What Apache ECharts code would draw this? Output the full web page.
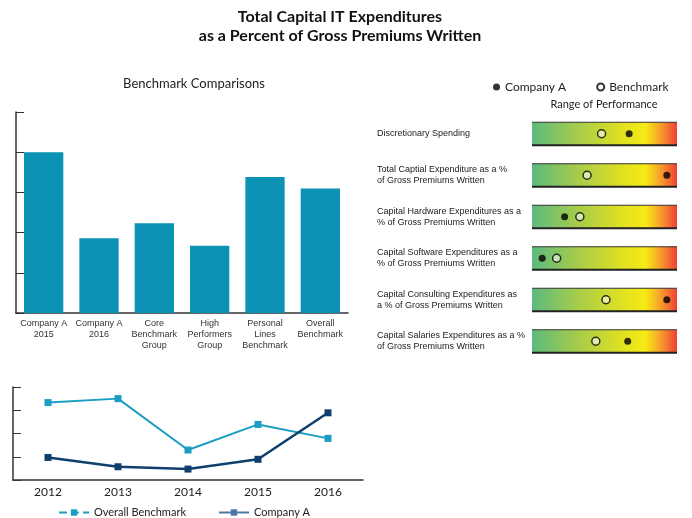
<!DOCTYPE html>
<html>
<head>
<meta charset="utf-8">
<script src="https://cdn.jsdelivr.net/npm/echarts@6/dist/echarts.min.js"></script>
<style>
  html, body { margin: 0; padding: 0; background: #fff; }
  #main { width: 692px; height: 518px; }
</style>
</head>
<body>
<div id="main"></div>
<script>
// bar chart: benchmark comparisons
const barCategories = ['Company A\n2015', 'Company A\n2016', 'Core\nBenchmark\nGroup', 'High\nPerformers\nGroup', 'Personal\nLines\nBenchmark', 'Overall\nBenchmark'];
const barValues = [4.0, 1.86, 2.23, 1.67, 3.38, 3.1];

// line chart: trend by year
const years = ['2012', '2013', '2014', '2015', '2016'];
const benchmarkTrend = [3.33, 3.5, 1.29, 2.39, 1.79];
const companyTrend = [0.97, 0.57, 0.47, 0.89, 2.89];

// range of performance (0 = left edge, 100 = right edge)
const rowLabels = [
  'Discretionary Spending',
  'Total Captial Expenditure as a %\nof Gross Premiums Written',
  'Capital Hardware Expenditures as a\n% of Gross Premiums Written',
  'Capital Software Expenditures as a\n% of Gross Premiums Written',
  'Capital Consulting Expenditures as\na % of Gross Premiums Written',
  'Capital Salaries Expenditures as a %\nof Gross Premiums Written'
];
const companyPos = [67, 93, 22.5, 7, 93, 66];
const benchmarkPos = [48, 38, 33, 17, 51, 44];

const legendNames = { companyDot: 'Company A', benchDot: 'Benchmark' };

const chart = echarts.init(document.getElementById('main'));

const rangeGradient = new echarts.graphic.LinearGradient(0, 0, 1, 0, [
  { offset: 0, color: '#5cba7e' },
  { offset: 0.3, color: '#a3cb4c' },
  { offset: 0.6, color: '#dcdf23' },
  { offset: 0.78, color: '#f6eb13' },
  { offset: 0.88, color: '#f7a42a' },
  { offset: 1, color: '#ee4036' }
]);

const axisColor = '#333';

const option = {
  backgroundColor: '#fff',
  animation: false,
  graphic: [
    {
      type: 'text', x: 340, y: 7,
      style: {
        text: 'Total Capital IT Expenditures\nas a Percent of Gross Premiums Written',
        fontFamily: 'Lato', fontWeight: 'bold', fontSize: 16, lineHeight: 19,
        fill: '#111', align: 'center', verticalAlign: 'top'
      }
    },
    {
      type: 'text', x: 194, y: 84,
      style: { text: 'Benchmark Comparisons', fontFamily: 'Lato', fontSize: 13, fill: '#222', align: 'center', verticalAlign: 'middle' }
    },
    {
      type: 'text', x: 604, y: 104,
      style: { text: 'Range of Performance', fontFamily: 'Lato', fontSize: 11, fill: '#222', align: 'center', verticalAlign: 'middle' }
    }
  ],
  legend: [
    {
      data: [
        { name: 'Overall Benchmark', lineStyle: { type: 'dashed' } },
        { name: 'Company A', itemStyle: { color: '#4a78a8' }, lineStyle: { color: '#4a78a8' } }
      ],
      left: 53, top: 502,
      itemWidth: 30, itemHeight: 8, itemGap: 32,
      textStyle: { fontFamily: 'Lato', fontSize: 11, color: '#222' }
    },
    {
      data: ['companyDot', 'benchDot'],
      formatter: function (name) { return legendNames[name]; },
      orient: 'horizontal',
      left: 488, top: 76, width: 204,
      icon: 'circle',
      itemWidth: 7, itemHeight: 7, itemGap: 30,
      textStyle: { fontFamily: 'Lato', fontSize: 12, color: '#222' }
    }
  ],
  grid: [
    { left: 16, top: 112, width: 332, height: 201 },
    { left: 13, top: 387, width: 350, height: 93 },
    { left: 532, top: 113, width: 145, height: 249 }
  ],
  xAxis: [
    {
      gridIndex: 0, type: 'category', data: barCategories,
      axisLine: { lineStyle: { color: axisColor, width: 1.5 } },
      axisTick: { inside: true, length: 4, lineStyle: { color: axisColor } },
      axisLabel: { interval: 0, fontFamily: 'Liberation Sans', fontSize: 9, lineHeight: 11, color: '#333', margin: 5 }
    },
    {
      gridIndex: 1, type: 'category', data: years,
      axisLine: { lineStyle: { color: axisColor, width: 1.5 } },
      axisTick: { inside: true, length: 4, lineStyle: { color: axisColor } },
      axisLabel: { fontFamily: 'Lato', fontSize: 12, color: '#222', margin: 6 }
    },
    { gridIndex: 2, type: 'value', min: 0, max: 100, show: false }
  ],
  yAxis: [
    {
      gridIndex: 0, type: 'value', min: 0, max: 5, interval: 1,
      axisLine: { show: true, lineStyle: { color: axisColor, width: 1.5 } },
      axisTick: { show: true, inside: true, length: 8, lineStyle: { color: axisColor } },
      axisLabel: { show: false },
      splitLine: { show: false }
    },
    {
      gridIndex: 1, type: 'value', min: 0, max: 4, interval: 1,
      axisLine: { show: true, lineStyle: { color: axisColor, width: 1.5 } },
      axisTick: { show: true, inside: true, length: 8, lineStyle: { color: axisColor } },
      axisLabel: { show: false },
      splitLine: { show: false }
    },
    {
      gridIndex: 2, type: 'category', data: rowLabels, inverse: true,
      axisLine: { show: false },
      axisTick: { show: false },
      axisLabel: { align: 'left', margin: 155, fontFamily: 'Liberation Sans', fontSize: 9, lineHeight: 11, color: '#222' }
    }
  ],
  series: [
    {
      type: 'bar', xAxisIndex: 0, yAxisIndex: 0,
      data: barValues,
      barCategoryGap: '29%',
      itemStyle: { color: '#0b92b4' }
    },
    {
      name: 'Overall Benchmark', type: 'line', xAxisIndex: 1, yAxisIndex: 1,
      data: benchmarkTrend,
      symbol: 'rect', symbolSize: 7,
      lineStyle: { color: '#1a9ec2', width: 2 },
      itemStyle: { color: '#1a9ec2' }
    },
    {
      name: 'Company A', type: 'line', xAxisIndex: 1, yAxisIndex: 1,
      data: companyTrend,
      symbol: 'rect', symbolSize: 7,
      lineStyle: { color: '#0e3f6d', width: 2.5 },
      itemStyle: { color: '#0e3f6d' }
    },
    {
      type: 'custom', xAxisIndex: 2, yAxisIndex: 2,
      data: rowLabels.map(function (_, i) { return [100, i]; }),
      renderItem: function (params, api) {
        const row = api.value(1);
        const start = api.coord([0, row]);
        const end = api.coord([100, row]);
        const h = 23;
        const top = start[1] - h / 2;
        return {
          type: 'group',
          children: [
            { type: 'rect', shape: { x: start[0], y: top, width: end[0] - start[0], height: h }, style: { fill: rangeGradient } },
            { type: 'line', shape: { x1: start[0], y1: top, x2: end[0], y2: top }, style: { stroke: '#333', lineWidth: 1 } },
            { type: 'line', shape: { x1: start[0], y1: top + h, x2: end[0], y2: top + h }, style: { stroke: '#222', lineWidth: 2 } }
          ]
        };
      },
      z: 2
    },
    {
      name: 'companyDot', type: 'scatter', xAxisIndex: 2, yAxisIndex: 2,
      data: companyPos.map(function (v, i) { return [v, i]; }),
      symbol: 'circle', symbolSize: 7,
      itemStyle: { color: '#000' },
      z: 5
    },
    {
      name: 'benchDot', type: 'scatter', xAxisIndex: 2, yAxisIndex: 2,
      data: benchmarkPos.map(function (v, i) { return [v, i]; }),
      symbol: 'circle', symbolSize: 8,
      itemStyle: { color: 'rgba(255,255,255,0.7)', borderColor: '#000', borderWidth: 1.5 },
      z: 5
    }
  ]
};

chart.setOption(option);
</script>
</body>
</html>
